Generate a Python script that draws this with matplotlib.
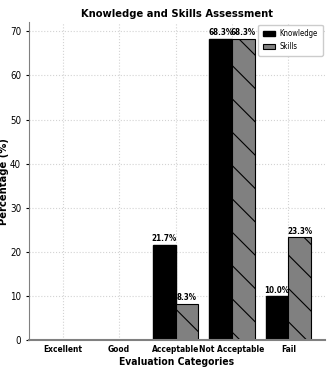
import matplotlib
matplotlib.use("Agg")
import matplotlib.pyplot as plt
import numpy as np

plt.rcParams["font.family"] = ["DejaVu Sans"]
plt.rcParams["font.stretch"] = "condensed"
plt.rcParams["hatch.linewidth"] = 0.8

categories = ["Excellent", "Good", "Acceptable", "Not Acceptable", "Fail"]
knowledge = [0.0, 0.0, 21.7, 68.3, 10.0]
skills = [0.0, 0.0, 8.3, 68.3, 23.3]

fig = plt.figure(figsize=(3.31, 3.74), dpi=100)
ax = fig.add_axes([0.087, 0.09, 0.895, 0.85])

x = np.arange(len(categories))
w = 0.4
b1 = ax.bar(x - w / 2, knowledge, w, color="black", edgecolor="black", label="Knowledge")
b2 = ax.bar(x + w / 2, skills, w, color="gray", edgecolor="black", hatch="\\",
            label="Skills", linewidth=0.8)

for bars, vals in ((b1, knowledge), (b2, skills)):
    for bar, v in zip(bars, vals):
        if v > 0:
            ax.text(bar.get_x() + bar.get_width() / 2, v + 0.3, f"{v:.1f}%",
                    ha="center", va="bottom", fontsize=5.8, fontweight="bold")

ax.set_xticks(x)
ax.set_xticklabels(categories, fontsize=6, fontweight="bold")
ax.tick_params(axis="y", labelsize=7, length=2, colors="black")
ax.tick_params(axis="x", length=0)
ax.set_xlim(-0.6, 4.65)
ax.set_ylim(0, 72)
ax.set_yticks(range(0, 71, 10))
ax.grid(True, linestyle=":", color="lightgray", linewidth=0.8)
ax.set_axisbelow(True)
ax.spines["top"].set_visible(False)
ax.spines["right"].set_visible(False)
ax.spines["bottom"].set_color("gray")
ax.spines["bottom"].set_linewidth(1.5)
ax.spines["left"].set_color("gray")

ax.set_title("Knowledge and Skills Assessment", fontsize=8, fontweight="bold", pad=4)
ax.set_xlabel("Evaluation Categories", fontsize=7.4, fontweight="bold", labelpad=2)
ax.set_ylabel("Percentage (%)", fontsize=7.2, fontweight="bold", labelpad=1,
              fontstretch="normal")
ax.legend(loc="upper right", fontsize=5.6, framealpha=1, borderpad=0.6,
          handlelength=1.6, handletextpad=0.6, borderaxespad=0.3)

fig.savefig("out.png", dpi=100)
